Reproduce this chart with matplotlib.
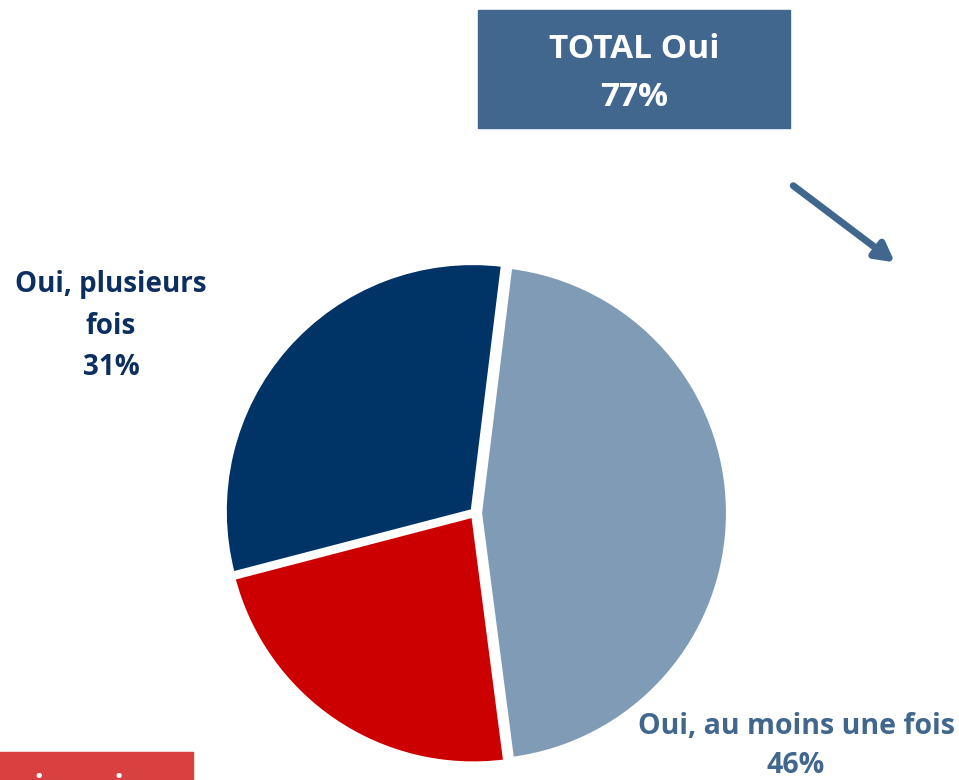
import matplotlib.pyplot as plt
from matplotlib.patches import Rectangle

# data
labels = ["Oui, au moins une fois", "Non, jamais", "Oui, plusieurs fois"]
shares = [46, 23, 31]
total_oui = 77
colors = ["#7F9BB6", "#CC0000", "#003366"]

plt.rcParams["font.family"] = ["Open Sans", "DejaVu Sans"]

W, H = 959, 780
fig = plt.figure(figsize=(W / 100, H / 100), dpi=100)
ax = fig.add_axes([0, 0, 1, 1])


def py(y):
    # pixel row from top -> data y
    return H - y


ax.pie(shares,
       colors=colors,
       startangle=83.0,
       counterclock=False,
       center=(475, py(513)),
       radius=248,
       explode=[5, 3, 3],
       wedgeprops=dict(edgecolor="white", linewidth=3))
ax.set_xlim(0, W)
ax.set_ylim(0, H)
ax.set_aspect("equal")
ax.axis("off")

# total box
ax.add_patch(Rectangle((478, py(128)), 312, 118, color="#41678E", zorder=3))
ax.text(634, py(49), "TOTAL Oui", ha="center", va="center", color="white",
        fontsize=24, fontweight="bold", zorder=4)
ax.text(634, py(97), f"{total_oui}%", ha="center", va="center", color="white",
        fontsize=24, fontweight="bold", zorder=4)

ax.annotate("", xy=(897, py(264)), xytext=(791, py(184)),
            arrowprops=dict(arrowstyle="-|>,head_length=1.1,head_width=0.6",
                            color="#41678E", lw=5))

# slice labels
ax.text(111, py(326), "Oui, plusieurs\nfois\n31%", ha="center", va="center",
        color="#0D2F5F", fontsize=20, fontweight="bold", linespacing=1.55)
ax.text(796, py(746), "Oui, au moins une fois\n46%", ha="center", va="center",
        color="#41678E", fontsize=20.5, fontweight="bold", linespacing=1.45)

# label box cut off at the bottom left
ax.add_patch(Rectangle((0, py(800)), 193, 48, color="#D94141", zorder=3, clip_on=False))
ax.text(140, py(773), "Non, jamais", ha="right", va="top", color="white",
        fontsize=23, fontweight="bold", zorder=4)

fig.savefig("out.png", dpi=100)
